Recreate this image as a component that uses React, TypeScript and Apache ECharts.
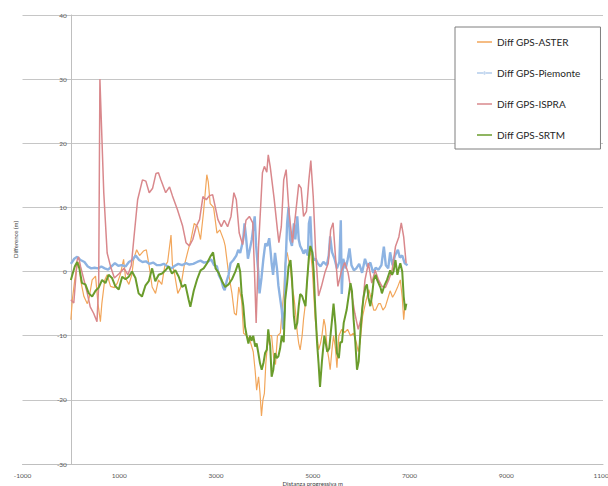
import React, { useEffect, useRef } from "react";
import * as echarts from "echarts";

const seriesNames = ["Diff GPS-ASTER", "Diff GPS-Piemonte", "Diff GPS-ISPRA", "Diff GPS-SRTM"];
const seriesColors = ["#F2A65A", "#8DB3E2", "#D9888C", "#6A9C2C"];

const asterData: [number, number][] = [
  [0,-7.5],[30,-4.4],[80,-1.3],[130,1],[170,1.5],[200,-1.3],[270,-3.9],[340,-5],[380,-4],[440,-1.3],[510,-0.7],[560,-5],[610,-7.8],[640,-5],[700,-1.3],[750,-0.5],[820,-2.3],[900,-2.5],[960,-1.8],[1020,-0.5],[1090,1.9],[1130,-1],[1200,-2],[1260,-0.5],[1300,2],[1360,3.4],[1420,2.5],[1500,3.2],[1560,3.4],[1620,0.8],[1680,-2.4],[1750,-3.4],[1810,-1.3],[1880,-2],[1940,0.8],[2000,1.5],[2070,5.7],[2100,1],[2140,-0.2],[2210,-3.4],[2270,-2.5],[2340,0.8],[2410,2.9],[2480,4.9],[2550,7.5],[2620,7],[2680,5],[2740,9.1],[2810,15.1],[2840,14],[2880,10.6],[2950,10],[3020,6],[3080,6.5],[3160,4.9],[3190,4],[3260,-0.3],[3330,-3.4],[3380,-6.5],[3420,-6.8],[3470,-2.4],[3530,-4.5],[3570,-9.6],[3640,-10],[3700,-10.7],[3770,-12.5],[3810,-15.5],[3840,-18.5],[3880,-16.4],[3910,-19],[3940,-22.5],[3970,-20],[4000,-19],[4030,-14.3],[4060,-11.7],[4100,-10],[4150,-10],[4190,-13.3],[4230,-14.5],[4270,-10],[4330,-9.6],[4380,-5],[4400,-3.4],[4430,1.3],[4470,3],[4500,1.8],[4540,0.5],[4570,-2.2],[4610,-3.9],[4640,-6],[4680,-9.5],[4710,-11.2],[4740,-12.2],[4780,-10],[4810,-7.4],[4850,-4.9],[4880,-1.8],[4920,1.8],[4950,3.4],[4990,0.5],[5020,-3.4],[5050,-7.4],[5090,-10],[5120,-12.2],[5160,-11.2],[5190,-10],[5230,-7.4],[5260,-8.5],[5300,-12.2],[5330,-13.5],[5360,-15.3],[5400,-12],[5430,-10],[5470,-12],[5500,-15],[5540,-10],[5600,-9],[5660,-9.5],[5720,-9],[5780,-10],[5840,-9.6],[5900,-11],[5940,-12.5],[5980,-11],[6030,-7],[6090,-4.9],[6160,-2.8],[6200,-4],[6260,-6],[6300,-6],[6360,-5],[6400,-5],[6450,-6],[6500,-5.5],[6560,-4],[6600,-3],[6650,-4],[6690,-3.5],[6750,-2.5],[6810,-1.3],[6850,-4],[6880,-7.5],[6910,-5]
];

const piemonteData: [number, number][] = [
  [0,1.2],[70,2],[130,2.3],[200,1.8],[280,1.5],[350,0.8],[420,0.5],[490,0.6],[560,0.5],[630,0.8],[700,0.5],[770,0.3],[840,0.8],[910,1.3],[980,0.9],[1050,1],[1130,0.8],[1200,1.5],[1270,1.8],[1340,2.5],[1410,1.8],[1480,1.5],[1550,1.6],[1620,1.2],[1700,1.4],[1780,1],[1850,1],[1920,1.2],[2000,0.8],[2080,0.5],[2150,0.9],[2220,1.2],[2300,1],[2380,1.3],[2450,1.1],[2530,1.2],[2610,1.5],[2680,1.7],[2750,1.4],[2820,1.5],[2900,1.9],[2960,1],[3020,0.8],[3060,-0.6],[3110,-1.3],[3150,-2.5],[3180,-2.9],[3220,-1.5],[3260,-0.5],[3300,1.3],[3360,1.8],[3420,2.5],[3460,3.4],[3500,2.9],[3560,4.9],[3590,7.5],[3620,5.5],[3660,2],[3700,3.5],[3740,5],[3800,8.6],[3830,4],[3870,0.3],[3900,-3.4],[3940,-1],[3980,2],[4020,4.4],[4060,4],[4100,5.2],[4130,3],[4150,1.3],[4180,-0.5],[4220,2.9],[4260,0.5],[4290,-2.2],[4330,-4.4],[4360,-6],[4390,-9],[4420,-6],[4430,0],[4450,3.4],[4470,7.5],[4500,10.1],[4530,5],[4570,4],[4610,7.5],[4640,5],[4680,8.6],[4710,5],[4740,4],[4780,3.4],[4810,2.8],[4850,3.4],[4900,2.5],[4920,7.5],[4950,8.6],[4980,3.4],[5020,1.8],[5060,2],[5100,1.3],[5160,0.8],[5220,1.5],[5290,1],[5330,2.5],[5360,5.5],[5400,3],[5450,2],[5500,0.5],[5550,1.5],[5580,8],[5600,-3.5],[5630,2],[5680,0.5],[5720,1.8],[5760,3.6],[5800,1],[5850,0.2],[5900,0.5],[5960,1.2],[6020,-0.2],[6080,2],[6130,0.8],[6190,1.4],[6250,-0.2],[6300,0.6],[6360,0.3],[6420,1],[6470,3.9],[6510,1],[6560,0.5],[6600,3],[6650,1],[6700,2.5],[6760,3.4],[6800,2.2],[6850,2.5],[6900,1.3],[6960,1]
];

const ispraData: [number, number][] = [
  [0,-4.4],[60,-4.9],[130,1.8],[160,2.3],[200,0.8],[270,-1.3],[340,-3.4],[400,-5.5],[470,-6.5],[540,-7.8],[575,-2],[600,30],[680,12.3],[750,2.9],[820,0.8],[900,-1],[1000,-0.3],[1100,0.5],[1180,-0.5],[1250,1],[1300,5],[1380,11.2],[1480,14.3],[1550,14.1],[1620,12.3],[1690,13],[1760,15.3],[1810,15.4],[1860,14.3],[1960,12.3],[2040,13.2],[2100,11.8],[2200,9.7],[2310,7.1],[2380,4.5],[2450,4],[2520,5],[2590,7],[2660,8.1],[2730,11.7],[2800,11.2],[2860,11.8],[2930,12],[2970,10.6],[3040,8.1],[3110,7],[3170,8],[3240,7],[3310,8.6],[3370,12.3],[3420,11.2],[3480,6],[3550,4.2],[3620,8],[3690,8.6],[3760,7.6],[3800,-1],[3830,-8],[3880,4],[3960,15.4],[4000,16.4],[4050,15.5],[4080,18.2],[4120,16.4],[4200,11.5],[4270,6.5],[4300,4.5],[4350,7],[4400,14.3],[4450,15.9],[4510,9.2],[4580,4.5],[4640,8.6],[4710,13.6],[4760,13],[4810,8.6],[4870,9.4],[4920,14.3],[4960,17.3],[5010,11.7],[5060,3],[5120,-3.8],[5180,-2.3],[5250,-0.2],[5320,1.3],[5370,6.5],[5420,7.6],[5470,2.3],[5520,-2.3],[5590,0],[5660,1.4],[5730,-0.2],[5800,-3.3],[5870,-6.5],[5940,-9],[6010,-7],[6080,-1.3],[6150,1.3],[6220,-1.8],[6290,0.2],[6360,-1.3],[6430,-2.3],[6500,-2.5],[6570,-1.3],[6640,0.2],[6710,3.9],[6780,5.4],[6830,7.6],[6880,5.4],[6930,1.3]
];

const srtmData: [number, number][] = [
  [0,-1.3],[80,0.8],[130,1.5],[175,0.5],[230,-1.8],[300,-2],[370,-3.4],[440,-3.9],[510,-3],[575,-2.5],[645,-1.3],[715,-1.8],[780,-0.5],[850,-1],[920,-2.3],[990,-2.8],[1060,-0.8],[1130,-1.2],[1195,-0.8],[1265,0],[1335,-1],[1400,-3.4],[1470,-3.9],[1540,-2.2],[1610,-1.5],[1680,0.5],[1745,-1.5],[1815,-0.5],[1885,-0.3],[1955,0.2],[2020,0.8],[2090,-0.3],[2160,0.2],[2230,-0.8],[2300,-2.4],[2365,-2],[2435,-4.4],[2470,-5.5],[2540,-3],[2610,-1.2],[2680,0.2],[2745,0.5],[2815,1.3],[2880,2.3],[2940,3],[2990,0.5],[3055,-0.2],[3125,-1.5],[3190,-2.4],[3260,-2],[3330,-1.2],[3400,0],[3460,1.3],[3500,0],[3530,-3.4],[3565,-5.4],[3600,-8.6],[3635,-10],[3670,-11.2],[3705,-10],[3735,-10.8],[3770,-10],[3810,-11.7],[3840,-11.2],[3875,-12.7],[3910,-14.3],[3945,-15.3],[3980,-14.3],[4015,-12.7],[4050,-12.2],[4080,-9],[4120,-11.5],[4150,-16.4],[4185,-15.3],[4220,-12.7],[4255,-13.5],[4290,-13.2],[4325,-12],[4360,-10],[4400,-11],[4430,-4.4],[4470,-1.8],[4500,0.8],[4540,1.8],[4570,-1],[4610,-7],[4640,-9],[4680,-8],[4710,-5.4],[4740,-3.5],[4780,-3.8],[4810,-4.5],[4850,-5.4],[4880,-1.8],[4920,2.3],[4950,4],[4990,3],[5020,0],[5050,-5.4],[5090,-11.2],[5120,-14.3],[5150,-18],[5190,-14],[5240,-10],[5300,-12.5],[5340,-12],[5400,-7.4],[5430,-5],[5470,-8.4],[5500,-12.7],[5540,-13.5],[5570,-11],[5605,-11],[5640,-8],[5700,-6],[5740,-3.9],[5780,-1.8],[5810,-3],[5845,-7.5],[5880,-11],[5915,-15.3],[5950,-14],[5985,-9.5],[6020,-6],[6050,-4],[6090,-2.4],[6120,-2],[6150,-4],[6190,-5.4],[6230,-3.5],[6260,-1.3],[6300,-0.5],[6330,-1.3],[6400,-2.5],[6430,-3.4],[6480,-2.2],[6535,-1.3],[6570,-0.5],[6600,0.2],[6640,-0.5],[6670,0],[6710,1.8],[6750,-0.5],[6780,0.5],[6810,1.3],[6850,0],[6880,-3.9],[6910,-6],[6935,-5]
];

const xAxisTitle = "Distanza progressiva m";
const yAxisTitle = "Difference (m)";

const lineIcon = "path://M0,0h16v1.6h-16z";
const markerLineIcon = "path://M0,1.4h16v1h-16z M8,0.3a1.6,1.6 0 1,0 0.01,0z";

export default function App() {
  const ref = useRef<HTMLDivElement>(null);
  useEffect(() => {
    if (!ref.current) return;
    const chart = echarts.init(ref.current, undefined, { renderer: "svg" });
    const datas = [asterData, piemonteData, ispraData, srtmData];
    const widths = [1.2, 2.4, 1.5, 2];
    const labelStyle = { fontSize: 6.5, color: "#595959", fontFamily: "Lato" };
    const plain = (v: number) => String(v);
    const gridLeft = 22.5;
    const gridRight = 5;
    const xMin = -1000;
    const xMax = 11000;
    // shift the value axis so that it stands on distance 0, as in the reference
    const plotWidth = 608 - gridLeft - gridRight;
    const yAxisShift = (plotWidth * (0 - xMin)) / (xMax - xMin);
    chart.setOption({
      animation: false,
      backgroundColor: "#ffffff",
      grid: { left: gridLeft, right: gridRight, top: 15, bottom: 22, containLabel: false, outerBoundsMode: "none" },
      legend: {
        orient: "vertical",
        left: 455,
        top: 27,
        padding: [10, 20, 9, 22],
        itemGap: 21,
        itemWidth: 15,
        itemHeight: 14,
        backgroundColor: "#ffffff",
        borderColor: "#7F7F7F",
        borderWidth: 1,
        textStyle: { fontFamily: "Lato", fontSize: 10, color: "#262626" },
        data: seriesNames.map((name, i) => ({ name, icon: i === 1 ? markerLineIcon : lineIcon })),
      },
      xAxis: {
        type: "value",
        min: xMin,
        max: xMax,
        interval: 2000,
        axisLine: { show: true, onZero: false, lineStyle: { color: "#BFBFBF", width: 1 } },
        axisTick: { show: false },
        splitLine: { show: false },
        axisLabel: { ...labelStyle, margin: 8, formatter: plain },
        name: xAxisTitle,
        nameLocation: "middle",
        nameGap: 16,
        nameMoveOverlap: false,
        nameTextStyle: { fontSize: 6, color: "#404040", fontFamily: "Lato" },
      },
      yAxis: {
        type: "value",
        min: -30,
        max: 40,
        interval: 10,
        offset: -yAxisShift,
        axisLine: { show: true, onZero: false, lineStyle: { color: "#BFBFBF", width: 1 } },
        axisTick: { show: false },
        splitLine: { show: true, lineStyle: { color: "#C6C6C6", width: 1 } },
        axisLabel: { ...labelStyle, margin: 4, formatter: plain },
        name: yAxisTitle,
        nameLocation: "middle",
        nameGap: 52,
        nameMoveOverlap: false,
        nameTextStyle: { fontSize: 6, color: "#404040", fontFamily: "Lato" },
      },
      series: seriesNames.map((name, i) => ({
        name,
        type: "line",
        data: datas[i],
        symbol: "none",
        showSymbol: false,
        color: seriesColors[i],
        lineStyle: { color: seriesColors[i], width: widths[i] },
        itemStyle: { color: seriesColors[i] },
      })),
    });
    return () => chart.dispose();
  }, []);
  return (
    <div
      ref={ref}
      style={{ position: "absolute", left: 0, top: 0, width: 608, height: 486 }}
    />
  );
}
